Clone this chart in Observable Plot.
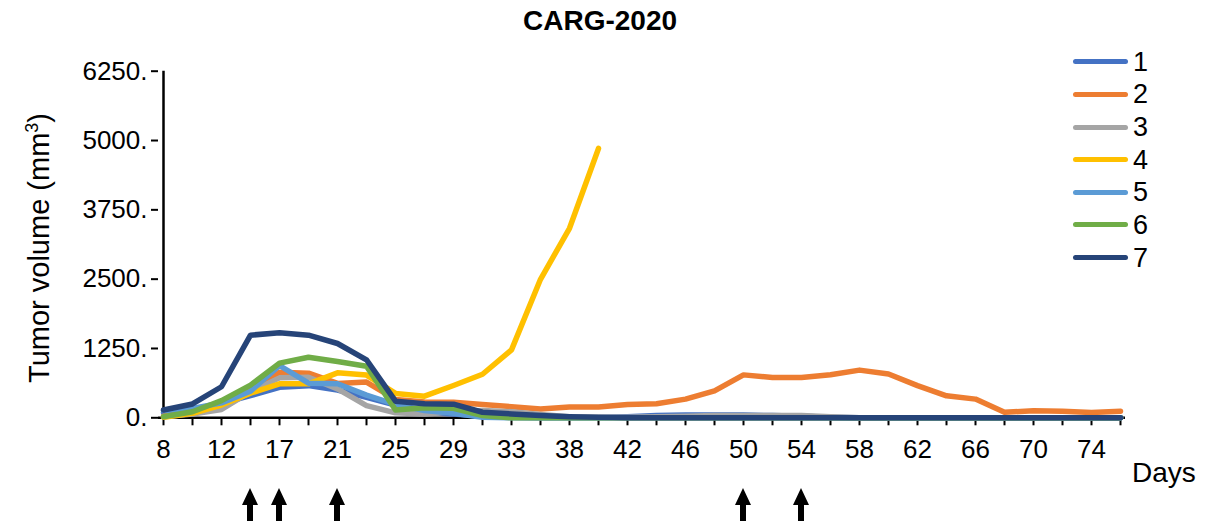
<!DOCTYPE html>
<html><head><meta charset="utf-8">
<script src="https://cdn.jsdelivr.net/npm/d3@7"></script>
<script src="https://cdn.jsdelivr.net/npm/@observablehq/plot@0.6"></script>
<style>
body{margin:0;background:#fff;}
#wrap{position:relative;width:1209px;height:522px;font-family:"Liberation Sans",Arial,sans-serif;color:#000;overflow:hidden;}
#wrap svg{position:absolute;left:0;top:0;}
.t{position:absolute;white-space:nowrap;line-height:1;}
</style></head><body><div id="wrap"></div>
<script>
const days = [8,10,12,15,17,19,21,23,25,27,29,31,33,35,38,40,42,44,46,48,50,52,54,56,58,60,62,64,66,68,70,72,74,76];
const s1 = [90,150,260,400,550,580,500,370,230,100,70,30,10,0,0,0,20,40,50,50,50,40,30,10,0,0,0,0,0,0,0,0,0,0];
const s2 = [30,100,230,500,820,805,620,645,330,285,280,240,200,160,195,195,240,255,337,486,774,726,726,775,860,790,580,396,337,100,125,120,95,120];
const s3 = [20,70,150,470,720,730,520,220,90,70,110,130,110,60,20,10,10,20,30,40,40,40,40,20,0,0,0,0,0,0,0,0,0,0];
const s4 = [10,80,230,443,613,613,811,770,440,390,582,785,1225,2498,3417,4857,null,null,null,null,null,null,null,null,null,null,null,null,null,null,null,null,null,null];
const s5 = [130,170,270,480,943,624,613,410,240,132,83,10,0,0,0,0,0,0,0,0,0,0,0,0,0,0,0,0,0,0,0,0,0,0];
const s6 = [20,110,310,590,985,1093,1015,930,140,180,170,40,0,0,0,0,0,0,0,0,0,0,0,0,0,0,0,0,0,0,0,0,0,0];
const s7 = [140,250,560,1490,1535,1490,1340,1046,300,255,245,100,70,40,20,10,0,0,0,0,0,0,0,0,0,0,0,0,0,0,0,0,0,0];
const seriesNames = ["1","2","3","4","5","6","7"];
const colors = ["#4472C4","#ED7D31","#A5A5A5","#FFC000","#5B9BD5","#70AD47","#264478"];
const yTicks = [0,1250,2500,3750,5000,6250];
const labelledDays = days.filter((d,i)=>i%2===0).map(String);
const arrowDays = [15,17,21,50,54];

const all = [s1,s2,s3,s4,s5,s6,s7];
const rows = [];
all.forEach((arr,k)=>arr.forEach((v,i)=>rows.push({day:String(days[i]), v, s:seriesNames[k]})));

const W=1209,H=522;
const labSet = new Set(labelledDays);
const chart = Plot.plot({
  width:W, height:H, marginLeft:158, marginRight:84, marginTop:70.7, marginBottom:104.7,
  style:{fontFamily:"Liberation Sans, Arial, sans-serif", fontSize:"26px", color:"#000", background:"transparent", overflow:"visible"},
  x:{type:"point", domain:days.map(String), range:[158,1125], padding:0, label:null, tickSize:8, tickPadding:14, tickFormat:d=>labSet.has(d)?d:""},
  y:{domain:[0,6250], ticks:yTicks, tickFormat:d=>d+".", label:null, tickSize:7, tickPadding:4},
  color:{domain:seriesNames, range:colors},
  marks:[
    Plot.ruleX([String(days[0])], {stroke:"#000", strokeWidth:2.5}),
    Plot.ruleY([0], {stroke:"#000", strokeWidth:2.5}),
    Plot.line(rows, {x:"day", y:"v", z:"s", stroke:"s", strokeWidth:5.5, strokeLinejoin:"round", strokeLinecap:"round"})
  ]
});
d3.select(chart).selectAll("g[aria-label$='tick'] path").attr("stroke-width",2);
const wrap = document.getElementById("wrap");
wrap.appendChild(chart);

const xs = chart.scale("x");
const svg = d3.select(chart);
arrowDays.forEach(d=>{
  const x = xs.apply(String(d));
  svg.append("path")
    .attr("d",`M${x-3},521 L${x-3},505 L${x-8},505 L${x},488 L${x+8},505 L${x+3},505 L${x+3},521 Z`)
    .attr("fill","#000");
});

const W2 = d3.select(wrap);
W2.append("div").attr("class","t").style("left","0px").style("width","1200px").style("text-align","center")
  .style("top","7px").style("font-size","28px").style("font-weight","bold").text("CARG-2020");
W2.append("div").attr("class","t").style("left","37.5px").style("top","248px")
  .style("font-size","29px").style("transform","translate(-50%,-50%) rotate(-90deg)")
  .html("Tumor volume (mm<sup style='font-size:18px;vertical-align:11px'>3</sup>)");
W2.append("div").attr("class","t").style("left","1132px").style("top","459px").style("font-size","28px").text("Days");
seriesNames.forEach((n,k)=>{
  const cy = 61.7 + k*32.65;
  W2.append("div").style("position","absolute").style("left","1073px").style("top",(cy-2.5)+"px")
    .style("width","55px").style("height","5px").style("border-radius","3px").style("background",colors[k]);
  W2.append("div").attr("class","t").style("left","1133px").style("top",(cy-13)+"px").style("font-size","27px").text(n);
});
</script></body></html>
